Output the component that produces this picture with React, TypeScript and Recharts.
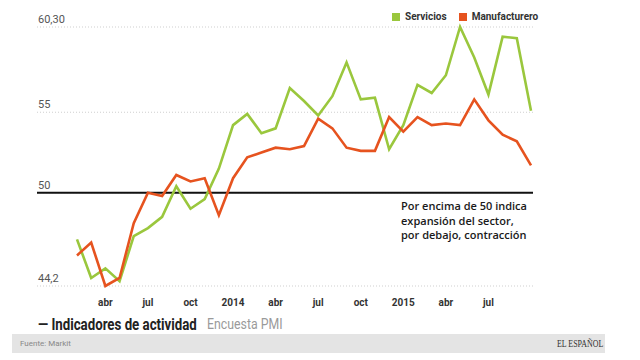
import { LineChart, Line, XAxis, YAxis, CartesianGrid, ReferenceLine } from 'recharts';

const months = [
  'feb13', 'mar13', 'abr13', 'may13', 'jun13', 'jul13', 'ago13', 'sep13', 'oct13', 'nov13', 'dic13',
  'ene14', 'feb14', 'mar14', 'abr14', 'may14', 'jun14', 'jul14', 'ago14', 'sep14', 'oct14', 'nov14', 'dic14',
  'ene15', 'feb15', 'mar15', 'abr15', 'may15', 'jun15', 'jul15', 'ago15', 'sep15', 'oct15',
];

const servicios = [
  47.1, 44.7, 45.3, 44.5, 47.3, 47.8, 48.5, 50.4, 49.0, 49.6, 51.5,
  54.2, 54.9, 53.7, 54.0, 56.5, 55.7, 54.8, 56.0, 58.1, 55.8, 55.9, 52.7,
  54.2, 56.7, 56.2, 57.3, 60.3, 58.4, 56.1, 59.7, 59.6, 55.1,
];

const manufacturero = [
  46.1, 46.9, 44.2, 44.7, 48.1, 50.0, 49.8, 51.1, 50.7, 50.9, 48.6,
  50.9, 52.2, 52.5, 52.8, 52.7, 52.9, 54.6, 54.0, 52.8, 52.6, 52.6, 54.7,
  53.8, 54.7, 54.2, 54.3, 54.2, 55.8, 54.5, 53.6, 53.2, 51.7,
];

const xTickLabels: Record<string, string> = {
  abr13: 'abr', jul13: 'jul', oct13: 'oct', ene14: '2014',
  abr14: 'abr', jul14: 'jul', oct14: 'oct', ene15: '2015',
  abr15: 'abr', jul15: 'jul',
};

const yTicks = [44.2, 50, 55, 60.3];
const yTickLabels = ['44,2', '50', '55', '60,30'];

const GREEN = '#9ac73d';
const RED = '#e6531f';

function XTick({ x, y, payload }: any) {
  const label = xTickLabels[payload.value];
  if (!label) return null;
  return (
    <text x={x} y={y + 20} textAnchor="middle" fontSize={10} fontWeight={700} fill="#333" fontFamily="Roboto">
      {label}
    </text>
  );
}

function YTick({ y, payload }: any) {
  const i = yTicks.indexOf(payload.value);
  return (
    <text x={38} y={y - 4} fontSize={11} fill="#555" fontFamily="Roboto">
      {yTickLabels[i]}
    </text>
  );
}

export default function App() {
  const data = months.map((m, i) => ({
    month: m,
    servicios: servicios[i],
    manufacturero: manufacturero[i],
  }));

  return (
    <div
      style={{
        position: 'absolute',
        left: 0,
        top: 0,
        width: 640,
        height: 360,
        background: '#fff',
        fontFamily: 'Roboto, sans-serif',
      }}
    >
      <LineChart width={640} height={320} data={data} margin={{ top: 27, right: 107, bottom: 0, left: 0 }}>
        <CartesianGrid vertical={false} stroke="#cfcfcf" strokeDasharray="1 2" />
        <XAxis
          dataKey="month"
          height={34}
          axisLine={false}
          tickLine={false}
          tickSize={0}
          tickMargin={0}
          interval={0}
          padding={{ left: 40, right: 2 }}
          tick={<XTick />}
        />
        <YAxis
          width={37}
          domain={[44.2, 60.3]}
          ticks={yTicks}
          interval={0}
          axisLine={false}
          tickLine={false}
          tick={<YTick />}
        />
        <ReferenceLine y={50} stroke="#111" strokeWidth={2} />
        <Line
          type="linear"
          dataKey="servicios"
          stroke={GREEN}
          strokeWidth={2.6}
          dot={false}
          isAnimationActive={false}
        />
        <Line
          type="linear"
          dataKey="manufacturero"
          stroke={RED}
          strokeWidth={2.6}
          dot={false}
          isAnimationActive={false}
        />
      </LineChart>

      <div
        style={{
          position: 'absolute',
          left: 392,
          top: 11,
          display: 'flex',
          alignItems: 'center',
          fontSize: 10,
          fontWeight: 700,
          color: '#333',
        }}
      >
        <span style={{ width: 8, height: 8, background: GREEN, marginRight: 5 }} />
        <span style={{ marginRight: 12 }}>Servicios</span>
        <span style={{ width: 8, height: 8, background: RED, marginRight: 5 }} />
        <span>Manufacturero</span>
      </div>

      <div
        style={{
          position: 'absolute',
          left: 401,
          top: 199,
          fontFamily: '"Open Sans", sans-serif',
          fontSize: 11,
          fontWeight: 600,
          lineHeight: '14.5px',
          color: '#1a1a1a',
        }}
      >
        Por encima de 50 indica
        <br />
        expansión del sector,
        <br />
        por debajo, contracción
      </div>

      <div
        style={{
          position: 'absolute',
          left: 38,
          top: 314,
          whiteSpace: 'nowrap',
          fontSize: 17,
          fontWeight: 700,
          color: '#222',
          transform: 'scaleX(0.78)',
          transformOrigin: 'left center',
        }}
      >
        — Indicadores de actividad
      </div>
      <div
        style={{
          position: 'absolute',
          left: 207,
          top: 316,
          whiteSpace: 'nowrap',
          fontSize: 14,
          color: '#9a9a9a',
          transform: 'scaleX(0.88)',
          transformOrigin: 'left center',
        }}
      >
        Encuesta PMI
      </div>

      <div
        style={{
          position: 'absolute',
          left: 12,
          top: 334,
          width: 593,
          height: 19,
          background: '#e4e4e4',
        }}
      >
        <span style={{ position: 'absolute', left: 8, top: 5, fontSize: 8, color: '#888' }}>Fuente: Markit</span>
        <span
          style={{
            position: 'absolute',
            right: 2,
            top: 3,
            fontFamily: '"Liberation Serif", serif',
            fontSize: 11,
            color: '#333',
            whiteSpace: 'nowrap',
            transform: 'scaleX(0.72)',
            transformOrigin: 'right center',
          }}
        >
          EL ESPAÑOL
        </span>
      </div>
    </div>
  );
}
